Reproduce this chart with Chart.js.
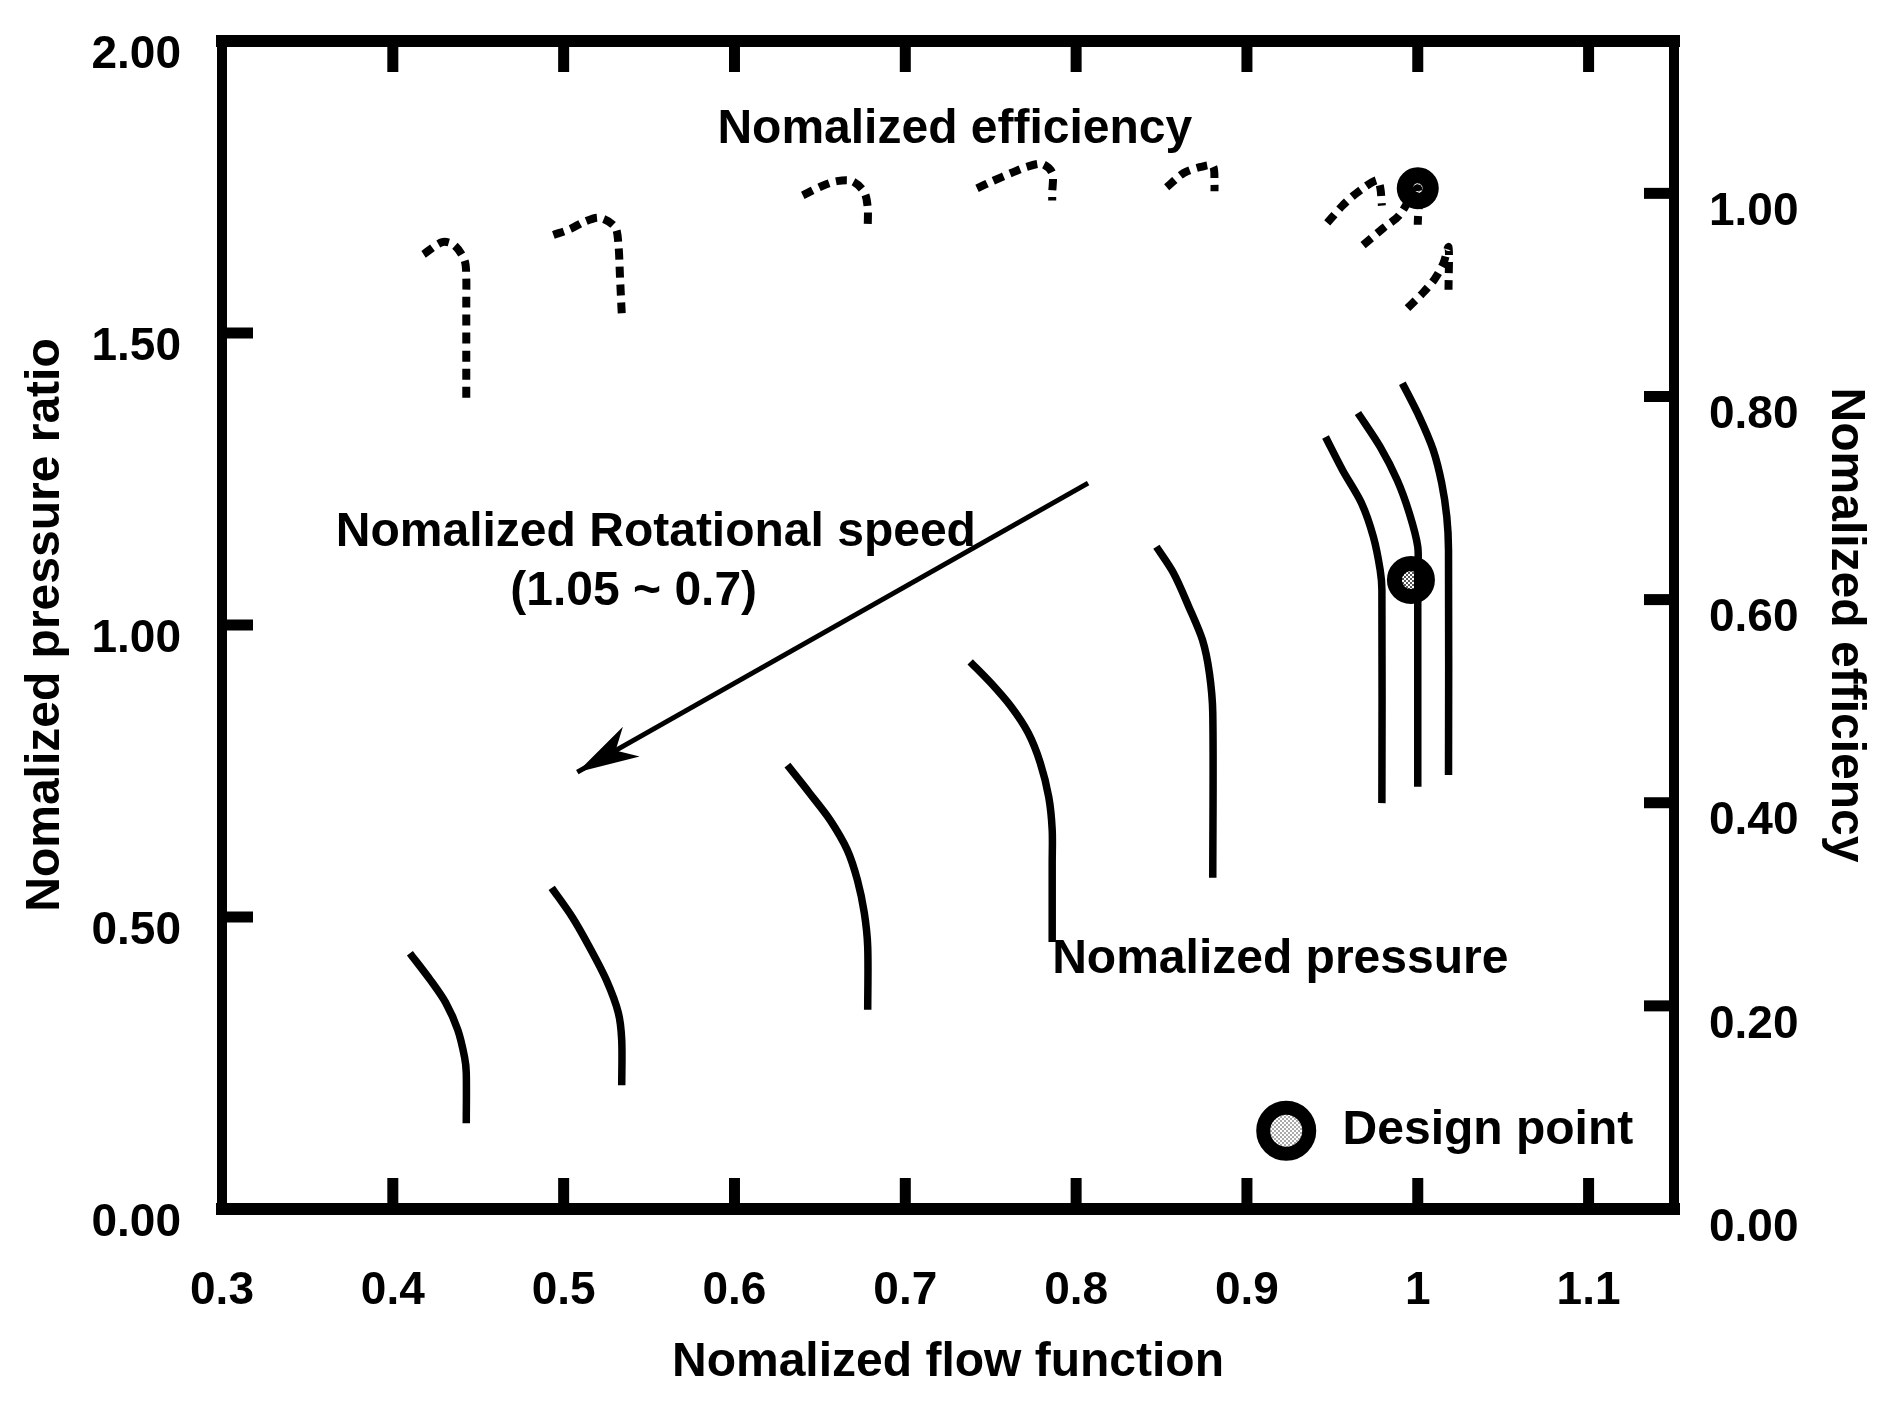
<!DOCTYPE html>
<html>
<head>
<meta charset="utf-8">
<script src="https://cdn.jsdelivr.net/npm/chart.js@4.4.0/dist/chart.umd.min.js"></script>
<style>
  html, body { margin: 0; background: #fff; }
  canvas { display: block; }
</style>
</head>
<body>
<canvas id="chart" width="1891" height="1415"></canvas>
<script>
// axis ticks
const xTicks = [0.3, 0.4, 0.5, 0.6, 0.7, 0.8, 0.9, 1.0, 1.1];
const xTickLabels = ["0.3", "0.4", "0.5", "0.6", "0.7", "0.8", "0.9", "1", "1.1"];
const prTicks = [0, 0.5, 1.0, 1.5, 2.0];
const prTickLabels = ["0.00", "0.50", "1.00", "1.50", "2.00"];
const effTicks = [0, 0.2, 0.4, 0.6, 0.8, 1.0];
const effTickLabels = ["0.00", "0.20", "0.40", "0.60", "0.80", "1.00"];

// normalized pressure ratio lines, one per rotational speed (x, pressure)
const press070 = [[0.410, 0.438], [0.422, 0.392], [0.431, 0.353], [0.438, 0.307], [0.442, 0.260], [0.443, 0.233], [0.443, 0.147]];
const press075 = [[0.493, 0.550], [0.505, 0.500], [0.515, 0.449], [0.525, 0.392], [0.532, 0.336], [0.534, 0.289], [0.534, 0.212]];
const press080 = [[0.631, 0.760], [0.644, 0.712], [0.656, 0.666], [0.666, 0.615], [0.672, 0.563], [0.676, 0.507], [0.678, 0.449], [0.678, 0.341]];
const press085 = [[0.738, 0.937], [0.750, 0.901], [0.762, 0.860], [0.772, 0.815], [0.779, 0.764], [0.784, 0.705], [0.786, 0.649], [0.786, 0.592], [0.786, 0.457]];
const press090 = [[0.847, 1.134], [0.857, 1.089], [0.866, 1.031], [0.874, 0.974], [0.878, 0.918], [0.880, 0.849], [0.880, 0.567]];
const press095 = [[0.946, 1.322], [0.956, 1.265], [0.967, 1.209], [0.974, 1.151], [0.978, 1.094], [0.979, 1.060], [0.979, 0.695]];
const press100 = [[0.965, 1.363], [0.978, 1.305], [0.988, 1.248], [0.995, 1.192], [1.000, 1.134], [1.000, 1.082], [1.000, 0.723]];
const press105 = [[0.991, 1.414], [1.001, 1.356], [1.009, 1.300], [1.014, 1.243], [1.017, 1.185], [1.018, 1.128], [1.018, 0.743]];

// normalized efficiency lines (x, efficiency)
const eff070 = [[0.418, 0.940], [0.429, 0.952], [0.436, 0.949], [0.442, 0.934], [0.443, 0.917], [0.443, 0.895], [0.443, 0.798]];
const eff075 = [[0.494, 0.959], [0.504, 0.965], [0.512, 0.972], [0.521, 0.976], [0.530, 0.967], [0.532, 0.951], [0.533, 0.917], [0.534, 0.882]];
const eff080 = [[0.640, 0.998], [0.651, 1.007], [0.660, 1.012], [0.669, 1.012], [0.676, 1.001], [0.678, 0.986], [0.678, 0.966]];
const eff085 = [[0.742, 1.005], [0.751, 1.012], [0.762, 1.020], [0.771, 1.026], [0.780, 1.029], [0.786, 1.020], [0.786, 1.000], [0.786, 0.993]];
const eff090 = [[0.853, 1.006], [0.863, 1.020], [0.873, 1.026], [0.880, 1.027], [0.881, 1.010], [0.881, 1.002]];
const eff095 = [[0.947, 0.971], [0.956, 0.988], [0.964, 1.000], [0.976, 1.013], [0.978, 1.006], [0.979, 0.988]];
const eff100 = [[0.968, 0.949], [0.980, 0.966], [0.989, 0.978], [1.000, 1.005], [1.000, 0.969]];
const eff105 = [[0.994, 0.887], [1.003, 0.902], [1.010, 0.916], [1.015, 0.931], [1.018, 0.947], [1.018, 0.905]];

// design point
const designPress = [[0.996, 1.077]];
const designEff = [[1.000, 1.005]];

// speed arrow (x, pressure)
const arrowX = [0.807, 0.508];
const arrowY = [1.243, 0.748];

const pressCurves = [press070, press075, press080, press085, press090, press095, press100, press105];
const effCurves = [eff070, eff075, eff080, eff085, eff090, eff095, eff100, eff105];

const FONT = '"Liberation Sans", Arial, sans-serif';
const ctx = document.getElementById("chart").getContext("2d");

function stipple(light) {
    let c = document.createElement("canvas");
    c.width = 4;
    c.height = 4;
    let g = c.getContext("2d");
    g.fillStyle = "#fff";
    g.fillRect(0, 0, 4, 4);
    g.fillStyle = light ? "#aaa" : "#555";
    g.fillRect(0, 0, 2, 2);
    g.fillRect(2, 2, 2, 2);
    return ctx.createPattern(c, "repeat");
}

function toXY(pts) {
    return pts.map(p => ({ x: p[0], y: p[1] }));
}

let datasets = [];
pressCurves.forEach(c => datasets.push({
    data: toXY(c), yAxisID: "y", borderColor: "#000", borderWidth: 7.5,
    pointRadius: 0, tension: 0.3, fill: false
}));
effCurves.forEach(c => datasets.push({
    data: toXY(c), yAxisID: "y2", borderColor: "#000", borderWidth: 8,
    borderDash: [11, 7], borderCapStyle: "butt", pointRadius: 0, tension: 0.3, fill: false
}));
datasets.push({
    data: arrowX.map((v, i) => ({ x: v, y: arrowY[i] })), yAxisID: "y",
    borderColor: "#000", borderWidth: 5, pointRadius: 0, tension: 0, fill: false
});
datasets.push({
    data: toXY(designPress), yAxisID: "y", showLine: false,
    pointRadius: 16.5, pointBorderWidth: 15, pointBackgroundColor: stipple(false), pointBorderColor: "#000"
});
datasets.push({
    data: toXY(designEff), yAxisID: "y2", showLine: false,
    pointRadius: 13, pointBorderWidth: 16, pointBackgroundColor: stipple(true), pointBorderColor: "#000"
});

function line(c, x1, y1, x2, y2) {
    c.beginPath();
    c.moveTo(x1, y1);
    c.lineTo(x2, y2);
    c.stroke();
}

const framePlugin = {
    id: "frame",
    afterDraw(chart) {
        let c = chart.ctx;
        let a = chart.chartArea;
        let x = chart.scales.x, y = chart.scales.y, y2 = chart.scales.y2;
        c.save();
        c.strokeStyle = "#000";
        c.fillStyle = "#000";
        c.lineCap = "square";
        c.lineWidth = 12;
        line(c, a.left, a.top, a.right, a.top);
        line(c, a.left, a.bottom, a.right, a.bottom);
        c.lineWidth = 10;
        line(c, a.left, a.top, a.left, a.bottom);
        line(c, a.right, a.top, a.right, a.bottom);

        // inward ticks
        c.lineCap = "butt";
        c.lineWidth = 11;
        xTicks.slice(1).forEach(v => {
            let px = x.getPixelForValue(v);
            line(c, px, a.top, px, a.top + 31);
            line(c, px, a.bottom, px, a.bottom - 31);
        });
        prTicks.slice(1, -1).forEach(v => {
            let py = y.getPixelForValue(v);
            line(c, a.left, py, a.left + 31, py);
        });
        effTicks.slice(1).forEach(v => {
            let py = y2.getPixelForValue(v);
            line(c, a.right, py, a.right - 30, py);
        });

        // arrow head
        let tx = x.getPixelForValue(arrowX[1]), ty = y.getPixelForValue(arrowY[1]);
        let sx = x.getPixelForValue(arrowX[0]), sy = y.getPixelForValue(arrowY[0]);
        let len = Math.hypot(sx - tx, sy - ty);
        let ux = (sx - tx) / len, uy = (sy - ty) / len;
        let nx = -uy, ny = ux;
        c.beginPath();
        c.moveTo(tx, ty);
        c.lineTo(tx + 62 * ux + 17 * nx, ty + 62 * uy + 17 * ny);
        c.lineTo(tx + 44 * ux, ty + 44 * uy);
        c.lineTo(tx + 62 * ux - 17 * nx, ty + 62 * uy - 17 * ny);
        c.closePath();
        c.fill();

        // annotations
        c.font = "bold 48px " + FONT;
        c.textBaseline = "middle";
        c.textAlign = "center";
        c.fillText("Nomalized efficiency", x.getPixelForValue(0.729), y.getPixelForValue(1.848));
        c.fillText("Nomalized Rotational speed", x.getPixelForValue(0.554), y.getPixelForValue(1.158));
        c.fillText("(1.05 ~ 0.7)", x.getPixelForValue(0.541), y.getPixelForValue(1.057));
        c.textAlign = "left";
        c.fillText("Nomalized pressure", x.getPixelForValue(0.786), y.getPixelForValue(0.426));
        c.fillText("Design point", x.getPixelForValue(0.956), y.getPixelForValue(0.134));

        // legend symbol
        let lx = x.getPixelForValue(0.923), ly = y.getPixelForValue(0.134);
        c.beginPath();
        c.arc(lx, ly, 23, 0, Math.PI * 2);
        c.fillStyle = stipple(true);
        c.fill();
        c.lineWidth = 14;
        c.stroke();
        c.restore();
    }
};

function noPad(s) {
    s.paddingTop = 0;
    s.paddingBottom = 0;
    s.paddingLeft = 0;
    s.paddingRight = 0;
}

const tickFont = { family: FONT, size: 46, weight: "bold" };
const titleFont = { family: FONT, size: 48, weight: "bold" };

new Chart(ctx, {
    type: "line",
    data: { datasets: datasets },
    options: {
        responsive: false,
        devicePixelRatio: 1,
        animation: false,
        layout: { padding: { top: 41, left: 0, right: 0, bottom: 0 } },
        plugins: { legend: { display: false }, tooltip: { enabled: false } },
        scales: {
            x: {
                type: "linear", min: 0.3, max: 1.15,
                afterBuildTicks: s => { s.ticks = xTicks.map(v => ({ value: v })); },
                afterFit: s => { s.height = 206; noPad(s); },
                ticks: { callback: (v, i) => xTickLabels[i], font: tickFont, color: "#000", padding: 55, autoSkip: false, maxRotation: 0 },
                grid: { display: false, drawTicks: false },
                border: { display: false },
                title: { display: true, text: "Nomalized flow function", font: titleFont, color: "#000", padding: { top: 0, bottom: 23 } }
            },
            y: {
                type: "linear", position: "left", min: 0, max: 2,
                afterBuildTicks: s => { s.ticks = prTicks.map(v => ({ value: v })); },
                afterFit: s => { s.width = 222; noPad(s); },
                ticks: { callback: (v, i) => prTickLabels[i], font: tickFont, color: "#000", padding: 41, labelOffset: 14, autoSkip: false },
                grid: { display: false, drawTicks: false },
                border: { display: false },
                title: { display: true, text: "Nomalized pressure ratio", font: titleFont, color: "#000", padding: { top: 17, bottom: 0 } }
            },
            y2: {
                type: "linear", position: "right", min: 0, max: 1.15,
                afterBuildTicks: s => { s.ticks = effTicks.map(v => ({ value: v })); },
                afterFit: s => { s.width = 217; noPad(s); },
                ticks: { callback: (v, i) => effTickLabels[i], font: tickFont, color: "#000", padding: 35, labelOffset: 19, autoSkip: false },
                grid: { display: false, drawTicks: false },
                border: { display: false },
                title: { display: true, text: "Nomalized efficiency", font: titleFont, color: "#000", padding: { top: 17, bottom: 0 } }
            }
        }
    },
    plugins: [framePlugin]
});
</script>
</body>
</html>
